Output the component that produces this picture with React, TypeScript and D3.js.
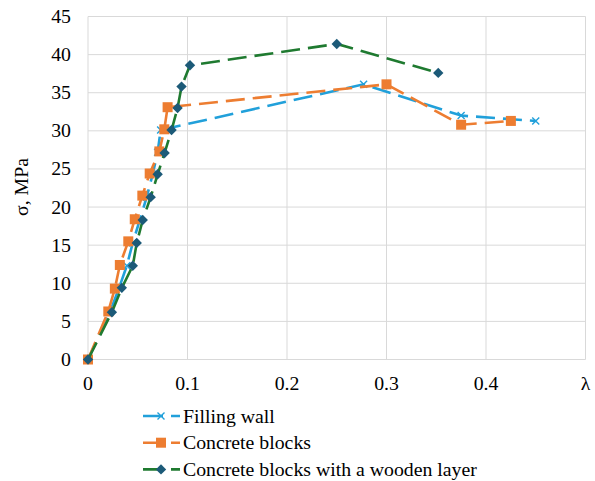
import * as d3 from "d3"

// values
const fillingWallX = [0, 0.022, 0.031, 0.039, 0.045, 0.052, 0.059, 0.065, 0.07, 0.073, 0.277, 0.375, 0.45]
const fillingWallY = [0, 6.2, 9.3, 12.3, 15.3, 18.3, 21.3, 24.3, 27.2, 30.1, 36.1, 32.0, 31.3]

const concreteX = [0, 0.0204, 0.027, 0.032, 0.0405, 0.047, 0.0546, 0.062, 0.0717, 0.0767, 0.08, 0.3, 0.375, 0.425]
const concreteY = [0, 6.3, 9.3, 12.4, 15.5, 18.4, 21.5, 24.4, 27.3, 30.2, 33.1, 36.1, 30.8, 31.3]

const woodenX = [0, 0.024, 0.034, 0.045, 0.049, 0.055, 0.063, 0.07, 0.077, 0.084, 0.09, 0.094, 0.1025, 0.25, 0.352]
const woodenY = [0, 6.2, 9.4, 12.3, 15.3, 18.3, 21.3, 24.3, 27.1, 30.1, 33.0, 35.8, 38.6, 41.4, 37.6]

const seriesNames = ["Filling wall", "Concrete blocks", "Concrete blocks with a wooden layer"]
const yTicks = [0, 5, 10, 15, 20, 25, 30, 35, 40, 45]
const xTicks = [0, 0.1, 0.2, 0.3, 0.4, 0.5]
const xTickLabels = ["0", "0.1", "0.2", "0.3", "0.4", "λ"]
const yTitle = "σ, MPa"

const W = 595
const H = 481
const font = "'Liberation Serif', 'Times New Roman', serif"
const fontSize = 19.8
const dash = "19,8"

type Marker = "x" | "square" | "diamond"

function MarkerShape(props: {x: number; y: number; kind: Marker; color: string}) {
  const {x, y, kind, color} = props
  if (kind === "x") {
    const r = 3.5
    return (
      <path
        d={`M${x - r},${y - r}L${x + r},${y + r}M${x - r},${y + r}L${x + r},${y - r}`}
        stroke={color}
        strokeWidth={1.4}
        fill="none"
      />
    )
  }
  if (kind === "square") {
    const r = 5
    return <rect x={x - r} y={y - r} width={2 * r} height={2 * r} fill={color} />
  }
  const r = 5.2
  return <path d={`M${x},${y - r}L${x + r},${y}L${x},${y + r}L${x - r},${y}Z`} fill={color} />
}

export default function App() {
  const xScale = d3.scaleLinear().domain([0, 0.5]).range([88, 585.5])
  const yScale = d3.scaleLinear().domain([0, 45]).range([359.5, 16.5])

  const series = [
    {name: seriesNames[0], xs: fillingWallX, ys: fillingWallY, color: "#21a0da", marker: "x" as Marker, markerColor: "#21a0da"},
    {name: seriesNames[1], xs: concreteX, ys: concreteY, color: "#ed7d31", marker: "square" as Marker, markerColor: "#ed7d31"},
    {name: seriesNames[2], xs: woodenX, ys: woodenY, color: "#1f7a30", marker: "diamond" as Marker, markerColor: "#1c5a78"},
  ]

  const line = d3
    .line<[number, number]>()
    .x((d) => xScale(d[0]))
    .y((d) => yScale(d[1]))

  const [x0, x1] = xScale.range()
  const [y0, y1] = yScale.range()

  return (
    <svg width={W} height={H} style={{position: "absolute", left: 0, top: 0, background: "#fff", fontFamily: font}}>
      {/* grid */}
      {yTicks.map((t) => (
        <line key={"gy" + t} x1={x0} x2={x1} y1={yScale(t)} y2={yScale(t)} stroke="#d9d9d9" strokeWidth={1} />
      ))}
      {xTicks.map((t) => (
        <line key={"gx" + t} x1={xScale(t)} x2={xScale(t)} y1={y0} y2={y1} stroke="#d9d9d9" strokeWidth={1} />
      ))}

      {/* tick labels */}
      {yTicks.map((t) => (
        <text key={"ty" + t} x={71} y={yScale(t) + 6.5} textAnchor="end" fontSize={fontSize} fill="#000">
          {t}
        </text>
      ))}
      {xTicks.map((t, i) => (
        <text key={"tx" + t} x={xScale(t)} y={390} textAnchor="middle" fontSize={fontSize} fill="#000">
          {xTickLabels[i]}
        </text>
      ))}
      <text transform={`translate(28,${(y0 + y1) / 2 - 1}) rotate(-90)`} textAnchor="middle" fontSize={fontSize} fill="#000">
        {yTitle}
      </text>

      {/* series */}
      {series.map((s) => {
        const pts = s.xs.map((x, i) => [x, s.ys[i]] as [number, number])
        return (
          <g key={s.name}>
            <path d={line(pts) ?? ""} fill="none" stroke={s.color} strokeWidth={2.6} strokeDasharray={dash} />
            {pts.map((p, i) => (
              <MarkerShape key={i} x={xScale(p[0])} y={yScale(p[1])} kind={s.marker} color={s.markerColor} />
            ))}
          </g>
        )
      })}

      {/* legend */}
      {series.map((s, i) => {
        const cy = 416 + i * 26.7
        return (
          <g key={"lg" + s.name}>
            <line x1={143} x2={180} y1={cy} y2={cy} stroke={s.color} strokeWidth={2.6} strokeDasharray="20,8" />
            <MarkerShape x={161} y={cy} kind={s.marker} color={s.markerColor} />
            <text x={183} y={cy + 6.5} fontSize={fontSize} fill="#000">
              {s.name}
            </text>
          </g>
        )
      })}
    </svg>
  )
}
